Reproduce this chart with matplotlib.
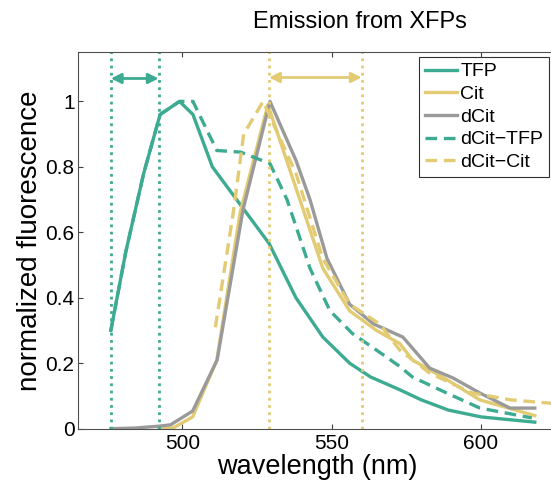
import matplotlib
matplotlib.use("Agg")
import matplotlib.pyplot as plt

plt.rcParams['font.family'] = ['Liberation Sans', 'DejaVu Sans']

# ---- data ----
wl_tfp = [476, 481, 487, 492.5, 499, 503.5, 510, 529, 538, 547, 556, 563, 573, 580, 589, 600, 618]
tfp = [0.30, 0.54, 0.78, 0.96, 1.0, 0.96, 0.80, 0.566, 0.40, 0.28, 0.20, 0.158, 0.118, 0.088, 0.057, 0.036, 0.02]

wl_cit = [492, 497, 503.4, 511.5, 519.3, 528.6, 539.3, 547, 556, 565, 572.8, 577, 588.5, 599.6, 618]
cit = [0.0, 0.003, 0.036, 0.21, 0.66, 0.99, 0.70, 0.49, 0.36, 0.30, 0.26, 0.21, 0.15, 0.088, 0.04]

wl_dcit = [476, 484, 492.5, 496, 503.4, 511.6, 520.3, 529.3, 538, 542.7, 548.4, 556, 564, 573.8, 582.8, 590.6, 599.6, 609.7, 618]
dcit = [0.0, 0.002, 0.008, 0.012, 0.054, 0.21, 0.67, 1.0, 0.82, 0.70, 0.52, 0.38, 0.32, 0.28, 0.185, 0.155, 0.109, 0.063, 0.063]

wl_dtfp = [476, 481, 487, 492.5, 499, 503.5, 511.5, 519.5, 529.3, 535, 542.7, 549.4, 557, 565, 572.8, 577, 588.5, 599.6, 617]
dtfp = [0.30, 0.54, 0.78, 0.96, 1.0, 1.0, 0.85, 0.845, 0.81, 0.70, 0.49, 0.36, 0.29, 0.24, 0.19, 0.158, 0.109, 0.063, 0.033]

wl_dcitc = [511, 517, 520.5, 527, 538, 547, 556, 566, 572.8, 582.8, 597, 610, 623, 635]
dcitc = [0.31, 0.66, 0.90, 1.0, 0.78, 0.52, 0.38, 0.32, 0.24, 0.17, 0.109, 0.088, 0.078, 0.072]

tfp_band = [476, 492]
cit_band = [529, 560]

labels = ['TFP', 'Cit', 'dCit', 'dCit\u2212TFP', 'dCit\u2212Cit']
xticks = [500, 550, 600]
yticks = [0, 0.2, 0.4, 0.6, 0.8, 1.0]
yticklabels = ['0', '0.2', '0.4', '0.6', '0.8', '1']

TEAL = '#3dab91'
YELLOW = '#e2cb72'
GRAY = '#9a9a9a'

W, H = 551, 482
fig = plt.figure(figsize=(W / 100, H / 100), dpi=100)
ax = fig.add_axes([78 / W, 1 - 428.7 / H, 477.7 / W, (428.7 - 52.3) / H])

lw = 2.4
ax.plot(wl_tfp, tfp, color=TEAL, lw=lw, label=labels[0])
ax.plot(wl_cit, cit, color=YELLOW, lw=lw, label=labels[1])
ax.plot(wl_dcit, dcit, color=GRAY, lw=lw, label=labels[2])
ax.plot(wl_dtfp, dtfp, color=TEAL, lw=lw, dashes=(3.5, 2.0), label=labels[3])
ax.plot(wl_dcitc, dcitc, color=YELLOW, lw=lw, dashes=(3.5, 2.0), label=labels[4])

for xv in tfp_band:
    ax.axvline(xv, color=TEAL, lw=2.0, linestyle=(0, (1, 1.6)))
for xv in cit_band:
    ax.axvline(xv, color=YELLOW, lw=2.0, linestyle=(0, (1, 1.6)))

ax.annotate('', xy=(tfp_band[0], 1.07), xytext=(tfp_band[1], 1.07),
            arrowprops=dict(arrowstyle='<|-|>', color=TEAL, lw=2.0,
                            mutation_scale=15, shrinkA=0, shrinkB=0))
ax.annotate('', xy=(cit_band[0], 1.073), xytext=(cit_band[1], 1.073),
            arrowprops=dict(arrowstyle='<|-|>', color=YELLOW, lw=2.0,
                            mutation_scale=15, shrinkA=0, shrinkB=0))

ax.set_xlim(465, 625)
ax.set_ylim(0, 1.15)
ax.set_xticks(xticks)
ax.set_xticklabels([str(v) for v in xticks])
ax.set_yticks(yticks)
ax.set_yticklabels(yticklabels)
ax.tick_params(direction='in', length=3.6, width=0.8, top=True, right=True,
               labelsize=15, colors='#404040', labelcolor='black')
ax.tick_params(axis='x', pad=3.5)
ax.tick_params(axis='y', pad=2.5)
for sp in ax.spines.values():
    sp.set_color('#505050')
    sp.set_linewidth(0.8)

leg = ax.legend(loc='upper right', bbox_to_anchor=(549 / W, 1 - 57 / H),
                bbox_transform=fig.transFigure, borderaxespad=0,
                fontsize=14, handlelength=1.65, handletextpad=0.15,
                labelspacing=0.26, borderpad=0.3,
                fancybox=False, framealpha=1, edgecolor='#303030')
leg.get_frame().set_linewidth(0.8)

fig.text(360 / W, 1 - 22 / H, 'Emission from XFPs', fontsize=17,
         ha='center', va='center')
fig.text(317 / W, 1 - 467.5 / H, 'wavelength (nm)', fontsize=19.5,
         ha='center', va='center')
fig.text(30 / W, 1 - 240.5 / H, 'normalized fluorescence', fontsize=20,
         ha='center', va='center', rotation=90)

fig.savefig('out.png', dpi=100)
